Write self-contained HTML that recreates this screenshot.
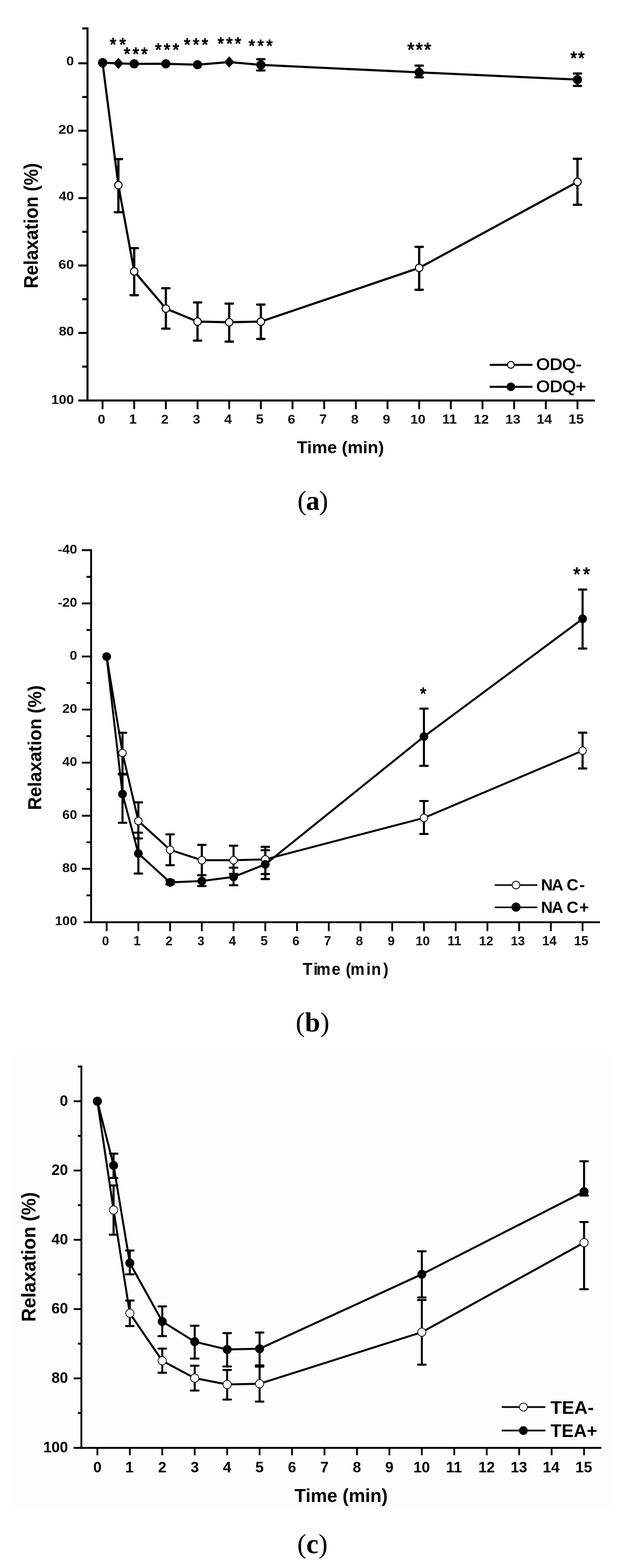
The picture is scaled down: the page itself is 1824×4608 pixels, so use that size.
<!DOCTYPE html>
<html><head><meta charset="utf-8"><title>Relaxation time-course figure (a)(b)(c)</title>
<style>
html,body{margin:0;padding:0;background:#fff;}
body{width:1824px;height:4608px;overflow:hidden;}
svg{display:block;}
</style></head>
<body>
<svg width="1824" height="4608" viewBox="0 0 1824 4608">
<rect x="0" y="0" width="1824" height="4608" fill="#fff"/>
<line x1="257.0" y1="80.5" x2="257.0" y2="1180.0" stroke="#000" stroke-width="6.0" stroke-linecap="butt"/>
<line x1="230.0" y1="1177.0" x2="1747.0" y2="1177.0" stroke="#000" stroke-width="6.0" stroke-linecap="butt"/>
<line x1="241.5" y1="83.5" x2="257.0" y2="83.5" stroke="#000" stroke-width="6.0" stroke-linecap="butt"/>
<line x1="230.0" y1="186.0" x2="257.0" y2="186.0" stroke="#000" stroke-width="6.0" stroke-linecap="butt"/>
<line x1="241.5" y1="285.1" x2="257.0" y2="285.1" stroke="#000" stroke-width="6.0" stroke-linecap="butt"/>
<line x1="230.0" y1="384.1" x2="257.0" y2="384.1" stroke="#000" stroke-width="6.0" stroke-linecap="butt"/>
<line x1="241.5" y1="483.1" x2="257.0" y2="483.1" stroke="#000" stroke-width="6.0" stroke-linecap="butt"/>
<line x1="230.0" y1="582.2" x2="257.0" y2="582.2" stroke="#000" stroke-width="6.0" stroke-linecap="butt"/>
<line x1="241.5" y1="681.2" x2="257.0" y2="681.2" stroke="#000" stroke-width="6.0" stroke-linecap="butt"/>
<line x1="230.0" y1="780.3" x2="257.0" y2="780.3" stroke="#000" stroke-width="6.0" stroke-linecap="butt"/>
<line x1="241.5" y1="879.3" x2="257.0" y2="879.3" stroke="#000" stroke-width="6.0" stroke-linecap="butt"/>
<line x1="230.0" y1="978.4" x2="257.0" y2="978.4" stroke="#000" stroke-width="6.0" stroke-linecap="butt"/>
<line x1="241.5" y1="1077.4" x2="257.0" y2="1077.4" stroke="#000" stroke-width="6.0" stroke-linecap="butt"/>
<text x="194.8" y="191.5" font-size="36.57" textLength="22.4" lengthAdjust="spacingAndGlyphs" font-family='"Liberation Sans", Arial, Helvetica, sans-serif' font-weight="bold" fill="#111" >0</text>
<text x="171.3" y="392.5" font-size="37.57" textLength="46.0" lengthAdjust="spacingAndGlyphs" font-family='"Liberation Sans", Arial, Helvetica, sans-serif' font-weight="bold" fill="#111" >20</text>
<text x="172.8" y="589.1" font-size="36.29" textLength="44.4" lengthAdjust="spacingAndGlyphs" font-family='"Liberation Sans", Arial, Helvetica, sans-serif' font-weight="bold" fill="#111" >40</text>
<text x="171.8" y="789.7" font-size="37.14" textLength="45.4" lengthAdjust="spacingAndGlyphs" font-family='"Liberation Sans", Arial, Helvetica, sans-serif' font-weight="bold" fill="#111" >60</text>
<text x="172.8" y="986.0" font-size="36.29" textLength="44.4" lengthAdjust="spacingAndGlyphs" font-family='"Liberation Sans", Arial, Helvetica, sans-serif' font-weight="bold" fill="#111" >80</text>
<text x="150.6" y="1186.7" font-size="36.29" textLength="66.6" lengthAdjust="spacingAndGlyphs" font-family='"Liberation Sans", Arial, Helvetica, sans-serif' font-weight="bold" fill="#111" >100</text>
<line x1="301.2" y1="1177.0" x2="301.2" y2="1202.5" stroke="#000" stroke-width="5.6" stroke-linecap="butt"/>
<text x="286.9" y="1245.0" font-size="37.71" textLength="22.2" lengthAdjust="spacingAndGlyphs" font-family='"Liberation Sans", Arial, Helvetica, sans-serif' font-weight="bold" fill="#111" >0</text>
<line x1="394.2" y1="1177.0" x2="394.2" y2="1202.5" stroke="#000" stroke-width="5.6" stroke-linecap="butt"/>
<text x="378.9" y="1245.0" font-size="38.26" textLength="22.6" lengthAdjust="spacingAndGlyphs" font-family='"Liberation Sans", Arial, Helvetica, sans-serif' font-weight="bold" fill="#111" >1</text>
<line x1="487.2" y1="1177.0" x2="487.2" y2="1202.5" stroke="#000" stroke-width="5.6" stroke-linecap="butt"/>
<text x="473.0" y="1245.0" font-size="37.71" textLength="22.2" lengthAdjust="spacingAndGlyphs" font-family='"Liberation Sans", Arial, Helvetica, sans-serif' font-weight="bold" fill="#111" >2</text>
<line x1="580.2" y1="1177.0" x2="580.2" y2="1202.5" stroke="#000" stroke-width="5.6" stroke-linecap="butt"/>
<text x="566.1" y="1245.0" font-size="37.71" textLength="22.2" lengthAdjust="spacingAndGlyphs" font-family='"Liberation Sans", Arial, Helvetica, sans-serif' font-weight="bold" fill="#111" >3</text>
<line x1="673.2" y1="1177.0" x2="673.2" y2="1202.5" stroke="#000" stroke-width="5.6" stroke-linecap="butt"/>
<text x="658.5" y="1245.0" font-size="38.26" textLength="22.6" lengthAdjust="spacingAndGlyphs" font-family='"Liberation Sans", Arial, Helvetica, sans-serif' font-weight="bold" fill="#111" >4</text>
<line x1="766.2" y1="1177.0" x2="766.2" y2="1202.5" stroke="#000" stroke-width="5.6" stroke-linecap="butt"/>
<text x="751.6" y="1245.0" font-size="38.26" textLength="22.6" lengthAdjust="spacingAndGlyphs" font-family='"Liberation Sans", Arial, Helvetica, sans-serif' font-weight="bold" fill="#111" >5</text>
<line x1="859.2" y1="1177.0" x2="859.2" y2="1202.5" stroke="#000" stroke-width="5.6" stroke-linecap="butt"/>
<text x="844.9" y="1245.0" font-size="37.71" textLength="22.2" lengthAdjust="spacingAndGlyphs" font-family='"Liberation Sans", Arial, Helvetica, sans-serif' font-weight="bold" fill="#111" >6</text>
<line x1="952.2" y1="1177.0" x2="952.2" y2="1202.5" stroke="#000" stroke-width="5.6" stroke-linecap="butt"/>
<text x="937.7" y="1245.0" font-size="38.26" textLength="22.6" lengthAdjust="spacingAndGlyphs" font-family='"Liberation Sans", Arial, Helvetica, sans-serif' font-weight="bold" fill="#111" >7</text>
<line x1="1045.2" y1="1177.0" x2="1045.2" y2="1202.5" stroke="#000" stroke-width="5.6" stroke-linecap="butt"/>
<text x="1030.9" y="1245.0" font-size="37.71" textLength="22.2" lengthAdjust="spacingAndGlyphs" font-family='"Liberation Sans", Arial, Helvetica, sans-serif' font-weight="bold" fill="#111" >8</text>
<line x1="1138.2" y1="1177.0" x2="1138.2" y2="1202.5" stroke="#000" stroke-width="5.6" stroke-linecap="butt"/>
<text x="1123.9" y="1245.0" font-size="37.71" textLength="22.2" lengthAdjust="spacingAndGlyphs" font-family='"Liberation Sans", Arial, Helvetica, sans-serif' font-weight="bold" fill="#111" >9</text>
<line x1="1231.2" y1="1177.0" x2="1231.2" y2="1202.5" stroke="#000" stroke-width="5.6" stroke-linecap="butt"/>
<text x="1205.3" y="1245.0" font-size="37.71" textLength="44.5" lengthAdjust="spacingAndGlyphs" font-family='"Liberation Sans", Arial, Helvetica, sans-serif' font-weight="bold" fill="#111" >10</text>
<line x1="1324.2" y1="1177.0" x2="1324.2" y2="1202.5" stroke="#000" stroke-width="5.6" stroke-linecap="butt"/>
<text x="1298.8" y="1245.0" font-size="38.26" textLength="42.9" lengthAdjust="spacingAndGlyphs" font-family='"Liberation Sans", Arial, Helvetica, sans-serif' font-weight="bold" fill="#111" >11</text>
<line x1="1417.2" y1="1177.0" x2="1417.2" y2="1202.5" stroke="#000" stroke-width="5.6" stroke-linecap="butt"/>
<text x="1391.3" y="1245.0" font-size="37.71" textLength="44.5" lengthAdjust="spacingAndGlyphs" font-family='"Liberation Sans", Arial, Helvetica, sans-serif' font-weight="bold" fill="#111" >12</text>
<line x1="1510.2" y1="1177.0" x2="1510.2" y2="1202.5" stroke="#000" stroke-width="5.6" stroke-linecap="butt"/>
<text x="1484.2" y="1245.0" font-size="37.71" textLength="44.5" lengthAdjust="spacingAndGlyphs" font-family='"Liberation Sans", Arial, Helvetica, sans-serif' font-weight="bold" fill="#111" >13</text>
<line x1="1603.2" y1="1177.0" x2="1603.2" y2="1202.5" stroke="#000" stroke-width="5.6" stroke-linecap="butt"/>
<text x="1576.3" y="1245.0" font-size="38.26" textLength="45.1" lengthAdjust="spacingAndGlyphs" font-family='"Liberation Sans", Arial, Helvetica, sans-serif' font-weight="bold" fill="#111" >14</text>
<line x1="1696.2" y1="1177.0" x2="1696.2" y2="1202.5" stroke="#000" stroke-width="5.6" stroke-linecap="butt"/>
<text x="1669.7" y="1245.0" font-size="38.26" textLength="45.1" lengthAdjust="spacingAndGlyphs" font-family='"Liberation Sans", Arial, Helvetica, sans-serif' font-weight="bold" fill="#111" >15</text>
<text x="872.0" y="1332.0" font-size="50.00" textLength="255.9" lengthAdjust="spacingAndGlyphs" font-family='"Liberation Sans", Arial, Helvetica, sans-serif' font-weight="bold" fill="#000" >Time (min)</text>
<text transform="translate(110.5,844.0) rotate(-90)" x="-3.5" y="0" font-size="57.25" textLength="368.2" lengthAdjust="spacingAndGlyphs" font-family='"Liberation Sans", Arial, Helvetica, sans-serif' font-weight="bold">Relaxation (%)</text>
<line x1="347.7" y1="467.6" x2="347.7" y2="623.7" stroke="#000" stroke-width="6.6" stroke-linecap="butt"/><line x1="337.0" y1="467.6" x2="358.4" y2="467.6" stroke="#000" stroke-width="6.6" stroke-linecap="round"/><line x1="337.0" y1="623.7" x2="358.4" y2="623.7" stroke="#000" stroke-width="6.6" stroke-linecap="round"/>
<line x1="394.2" y1="729.2" x2="394.2" y2="867.6" stroke="#000" stroke-width="6.6" stroke-linecap="butt"/><line x1="383.5" y1="729.2" x2="404.9" y2="729.2" stroke="#000" stroke-width="6.6" stroke-linecap="round"/><line x1="383.5" y1="867.6" x2="404.9" y2="867.6" stroke="#000" stroke-width="6.6" stroke-linecap="round"/>
<line x1="487.2" y1="847.0" x2="487.2" y2="965.7" stroke="#000" stroke-width="6.6" stroke-linecap="butt"/><line x1="476.5" y1="847.0" x2="497.9" y2="847.0" stroke="#000" stroke-width="6.6" stroke-linecap="round"/><line x1="476.5" y1="965.7" x2="497.9" y2="965.7" stroke="#000" stroke-width="6.6" stroke-linecap="round"/>
<line x1="580.2" y1="888.7" x2="580.2" y2="1001.0" stroke="#000" stroke-width="6.6" stroke-linecap="butt"/><line x1="569.5" y1="888.7" x2="590.9" y2="888.7" stroke="#000" stroke-width="6.6" stroke-linecap="round"/><line x1="569.5" y1="1001.0" x2="590.9" y2="1001.0" stroke="#000" stroke-width="6.6" stroke-linecap="round"/>
<line x1="673.2" y1="892.2" x2="673.2" y2="1003.9" stroke="#000" stroke-width="6.6" stroke-linecap="butt"/><line x1="662.5" y1="892.2" x2="683.9" y2="892.2" stroke="#000" stroke-width="6.6" stroke-linecap="round"/><line x1="662.5" y1="1003.9" x2="683.9" y2="1003.9" stroke="#000" stroke-width="6.6" stroke-linecap="round"/>
<line x1="766.2" y1="895.1" x2="766.2" y2="996.1" stroke="#000" stroke-width="6.6" stroke-linecap="butt"/><line x1="755.5" y1="895.1" x2="776.9" y2="895.1" stroke="#000" stroke-width="6.6" stroke-linecap="round"/><line x1="755.5" y1="996.1" x2="776.9" y2="996.1" stroke="#000" stroke-width="6.6" stroke-linecap="round"/>
<line x1="1231.2" y1="725.5" x2="1231.2" y2="851.6" stroke="#000" stroke-width="6.6" stroke-linecap="butt"/><line x1="1220.5" y1="725.5" x2="1241.9" y2="725.5" stroke="#000" stroke-width="6.6" stroke-linecap="round"/><line x1="1220.5" y1="851.6" x2="1241.9" y2="851.6" stroke="#000" stroke-width="6.6" stroke-linecap="round"/>
<line x1="1696.2" y1="466.6" x2="1696.2" y2="601.8" stroke="#000" stroke-width="6.6" stroke-linecap="butt"/><line x1="1685.5" y1="466.6" x2="1706.9" y2="466.6" stroke="#000" stroke-width="6.6" stroke-linecap="round"/><line x1="1685.5" y1="601.8" x2="1706.9" y2="601.8" stroke="#000" stroke-width="6.6" stroke-linecap="round"/>
<line x1="766.2" y1="174.0" x2="766.2" y2="207.0" stroke="#000" stroke-width="6.6" stroke-linecap="butt"/><line x1="755.5" y1="174.0" x2="776.9" y2="174.0" stroke="#000" stroke-width="6.6" stroke-linecap="round"/><line x1="755.5" y1="207.0" x2="776.9" y2="207.0" stroke="#000" stroke-width="6.6" stroke-linecap="round"/>
<line x1="1231.2" y1="192.8" x2="1231.2" y2="227.1" stroke="#000" stroke-width="6.6" stroke-linecap="butt"/><line x1="1220.5" y1="192.8" x2="1241.9" y2="192.8" stroke="#000" stroke-width="6.6" stroke-linecap="round"/><line x1="1220.5" y1="227.1" x2="1241.9" y2="227.1" stroke="#000" stroke-width="6.6" stroke-linecap="round"/>
<line x1="1696.2" y1="216.0" x2="1696.2" y2="252.5" stroke="#000" stroke-width="6.6" stroke-linecap="butt"/><line x1="1685.5" y1="216.0" x2="1706.9" y2="216.0" stroke="#000" stroke-width="6.6" stroke-linecap="round"/><line x1="1685.5" y1="252.5" x2="1706.9" y2="252.5" stroke="#000" stroke-width="6.6" stroke-linecap="round"/>
<polyline points="301.4,186.0 347.7,544.1 394.2,797.5 487.2,906.9 580.2,945.1 673.2,947.0 766.2,945.1 1231.2,787.3 1696.2,534.6" fill="none" stroke="#000" stroke-width="6.3" stroke-linejoin="round" stroke-linecap="round"/>
<polyline points="301.4,184.0 347.7,186.3 394.2,187.6 487.2,187.5 580.2,190.2 673.2,182.3 766.2,190.6 1231.2,212.7 1696.2,233.9" fill="none" stroke="#000" stroke-width="6.3" stroke-linejoin="round" stroke-linecap="round"/>
<circle cx="301.4" cy="186.0" r="11.00" fill="#fff" stroke="#000" stroke-width="3"/>
<circle cx="347.7" cy="544.1" r="11.00" fill="#fff" stroke="#000" stroke-width="3"/>
<circle cx="394.2" cy="797.5" r="11.00" fill="#fff" stroke="#000" stroke-width="3"/>
<circle cx="487.2" cy="906.9" r="11.00" fill="#fff" stroke="#000" stroke-width="3"/>
<circle cx="580.2" cy="945.1" r="11.00" fill="#fff" stroke="#000" stroke-width="3"/>
<circle cx="673.2" cy="947.0" r="11.00" fill="#fff" stroke="#000" stroke-width="3"/>
<circle cx="766.2" cy="945.1" r="11.00" fill="#fff" stroke="#000" stroke-width="3"/>
<circle cx="1231.2" cy="787.3" r="11.00" fill="#fff" stroke="#000" stroke-width="3"/>
<circle cx="1696.2" cy="534.6" r="11.00" fill="#fff" stroke="#000" stroke-width="3"/>
<circle cx="301.4" cy="184.0" r="13.5" fill="#000"/>
<polygon points="347.7,169.5 362.3,186.3 347.7,203.1 333.1,186.3" fill="#000"/>
<circle cx="394.2" cy="187.6" r="13.5" fill="#000"/>
<circle cx="487.2" cy="187.5" r="13.5" fill="#000"/>
<circle cx="580.2" cy="190.2" r="13.5" fill="#000"/>
<polygon points="673.2,165.5 687.8,182.3 673.2,199.1 658.6,182.3" fill="#000"/>
<circle cx="766.2" cy="190.6" r="13.5" fill="#000"/>
<circle cx="1231.2" cy="212.7" r="13.5" fill="#000"/>
<circle cx="1696.2" cy="233.9" r="13.5" fill="#000"/>
<text transform="scale(0.93,1)" x="346.7 377.2" y="149.5" font-size="52.86" font-family='"Liberation Sans", Arial, Helvetica, sans-serif' fill="#000" stroke="#000" stroke-width="2.0" stroke-linejoin="round">**</text>
<text transform="scale(0.93,1)" x="390.9 418.5 446.0" y="177.0" font-size="52.86" font-family='"Liberation Sans", Arial, Helvetica, sans-serif' fill="#000" stroke="#000" stroke-width="2.0" stroke-linejoin="round">***</text>
<text transform="scale(0.93,1)" x="489.8 517.4 545.1" y="163.6" font-size="52.57" font-family='"Liberation Sans", Arial, Helvetica, sans-serif' fill="#000" stroke="#000" stroke-width="2.0" stroke-linejoin="round">***</text>
<text transform="scale(0.93,1)" x="581.0 609.1 637.2" y="149.3" font-size="52.29" font-family='"Liberation Sans", Arial, Helvetica, sans-serif' fill="#000" stroke="#000" stroke-width="2.0" stroke-linejoin="round">***</text>
<text transform="scale(0.93,1)" x="687.1 714.3 741.4" y="146.5" font-size="52.57" font-family='"Liberation Sans", Arial, Helvetica, sans-serif' fill="#000" stroke="#000" stroke-width="2.0" stroke-linejoin="round">***</text>
<text transform="scale(0.93,1)" x="785.4 813.5 841.5" y="152.5" font-size="50.57" font-family='"Liberation Sans", Arial, Helvetica, sans-serif' fill="#000" stroke="#000" stroke-width="2.0" stroke-linejoin="round">***</text>
<text transform="scale(0.93,1)" x="1286.5 1312.9 1339.4" y="166.4" font-size="57.14" font-family='"Liberation Sans", Arial, Helvetica, sans-serif' fill="#000" stroke="#000" stroke-width="2.0" stroke-linejoin="round">***</text>
<text transform="scale(0.93,1)" x="1801.6 1825.8" y="189.5" font-size="52.86" font-family='"Liberation Sans", Arial, Helvetica, sans-serif' fill="#000" stroke="#000" stroke-width="2.0" stroke-linejoin="round">**</text>
<line x1="1438.4" y1="1072.2" x2="1564.0" y2="1072.2" stroke="#000" stroke-width="6" stroke-linecap="butt"/>
<circle cx="1500.5" cy="1072.2" r="10.00" fill="#fff" stroke="#000" stroke-width="3"/>
<line x1="1438.4" y1="1136.7" x2="1564.0" y2="1136.7" stroke="#000" stroke-width="6" stroke-linecap="butt"/>
<circle cx="1500.5" cy="1136.7" r="12.5" fill="#000"/>
<text x="1575.3" y="1086.6" font-size="49.00" textLength="132.8" lengthAdjust="spacingAndGlyphs" font-family='"Liberation Sans", Arial, Helvetica, sans-serif' font-weight="normal" fill="#000" stroke="#000" stroke-width="1.6" stroke-linejoin="round">ODQ-</text>
<text x="1575.3" y="1151.6" font-size="49.00" textLength="145.8" lengthAdjust="spacingAndGlyphs" font-family='"Liberation Sans", Arial, Helvetica, sans-serif' font-weight="normal" fill="#000" stroke="#000" stroke-width="1.6" stroke-linejoin="round">ODQ+</text>
<text y="1497.9" font-size="80.77" font-family='"Liberation Serif", "Times New Roman", serif' fill="#000"><tspan x="873.4">(</tspan><tspan x="898.4" font-weight="bold">a</tspan><tspan x="936.9">)</tspan></text>
<line x1="267.6" y1="1614.0" x2="267.6" y2="2712.9" stroke="#000" stroke-width="5.5" stroke-linecap="butt"/>
<line x1="245.6" y1="2710.2" x2="1762.0" y2="2710.2" stroke="#000" stroke-width="5.5" stroke-linecap="butt"/>
<line x1="240.5" y1="1616.8" x2="267.6" y2="1616.8" stroke="#000" stroke-width="5.5" stroke-linecap="butt"/>
<line x1="254.0" y1="1695.3" x2="267.6" y2="1695.3" stroke="#000" stroke-width="5.5" stroke-linecap="butt"/>
<line x1="240.5" y1="1773.3" x2="267.6" y2="1773.3" stroke="#000" stroke-width="5.5" stroke-linecap="butt"/>
<line x1="254.0" y1="1851.3" x2="267.6" y2="1851.3" stroke="#000" stroke-width="5.5" stroke-linecap="butt"/>
<line x1="240.5" y1="1929.3" x2="267.6" y2="1929.3" stroke="#000" stroke-width="5.5" stroke-linecap="butt"/>
<line x1="254.0" y1="2007.3" x2="267.6" y2="2007.3" stroke="#000" stroke-width="5.5" stroke-linecap="butt"/>
<line x1="240.5" y1="2085.3" x2="267.6" y2="2085.3" stroke="#000" stroke-width="5.5" stroke-linecap="butt"/>
<line x1="254.0" y1="2163.3" x2="267.6" y2="2163.3" stroke="#000" stroke-width="5.5" stroke-linecap="butt"/>
<line x1="240.5" y1="2241.3" x2="267.6" y2="2241.3" stroke="#000" stroke-width="5.5" stroke-linecap="butt"/>
<line x1="254.0" y1="2319.3" x2="267.6" y2="2319.3" stroke="#000" stroke-width="5.5" stroke-linecap="butt"/>
<line x1="240.5" y1="2397.3" x2="267.6" y2="2397.3" stroke="#000" stroke-width="5.5" stroke-linecap="butt"/>
<line x1="254.0" y1="2475.3" x2="267.6" y2="2475.3" stroke="#000" stroke-width="5.5" stroke-linecap="butt"/>
<line x1="240.5" y1="2553.3" x2="267.6" y2="2553.3" stroke="#000" stroke-width="5.5" stroke-linecap="butt"/>
<line x1="254.0" y1="2631.3" x2="267.6" y2="2631.3" stroke="#000" stroke-width="5.5" stroke-linecap="butt"/>
<text x="169.9" y="1626.8" font-size="37.71" textLength="56.7" lengthAdjust="spacingAndGlyphs" font-family='"Liberation Sans", Arial, Helvetica, sans-serif' font-weight="bold" fill="#111" >-40</text>
<text x="169.9" y="1782.8" font-size="37.71" textLength="56.7" lengthAdjust="spacingAndGlyphs" font-family='"Liberation Sans", Arial, Helvetica, sans-serif' font-weight="bold" fill="#111" >-20</text>
<text x="204.8" y="1938.8" font-size="37.71" textLength="21.8" lengthAdjust="spacingAndGlyphs" font-family='"Liberation Sans", Arial, Helvetica, sans-serif' font-weight="bold" fill="#111" >0</text>
<text x="183.0" y="2094.8" font-size="37.71" textLength="43.6" lengthAdjust="spacingAndGlyphs" font-family='"Liberation Sans", Arial, Helvetica, sans-serif' font-weight="bold" fill="#111" >20</text>
<text x="183.0" y="2250.8" font-size="37.71" textLength="43.6" lengthAdjust="spacingAndGlyphs" font-family='"Liberation Sans", Arial, Helvetica, sans-serif' font-weight="bold" fill="#111" >40</text>
<text x="183.0" y="2406.8" font-size="37.71" textLength="43.6" lengthAdjust="spacingAndGlyphs" font-family='"Liberation Sans", Arial, Helvetica, sans-serif' font-weight="bold" fill="#111" >60</text>
<text x="183.0" y="2562.8" font-size="37.71" textLength="43.6" lengthAdjust="spacingAndGlyphs" font-family='"Liberation Sans", Arial, Helvetica, sans-serif' font-weight="bold" fill="#111" >80</text>
<text x="161.3" y="2718.8" font-size="37.71" textLength="65.4" lengthAdjust="spacingAndGlyphs" font-family='"Liberation Sans", Arial, Helvetica, sans-serif' font-weight="bold" fill="#111" >100</text>
<line x1="313.2" y1="2710.2" x2="313.2" y2="2736.3" stroke="#000" stroke-width="5.3" stroke-linecap="butt"/>
<text x="299.6" y="2777.6" font-size="37.57" textLength="20.9" lengthAdjust="spacingAndGlyphs" font-family='"Liberation Sans", Arial, Helvetica, sans-serif' font-weight="bold" fill="#111" >0</text>
<line x1="406.4" y1="2710.2" x2="406.4" y2="2736.3" stroke="#000" stroke-width="5.3" stroke-linecap="butt"/>
<text x="391.9" y="2777.6" font-size="38.12" textLength="21.2" lengthAdjust="spacingAndGlyphs" font-family='"Liberation Sans", Arial, Helvetica, sans-serif' font-weight="bold" fill="#111" >1</text>
<line x1="499.6" y1="2710.2" x2="499.6" y2="2736.3" stroke="#000" stroke-width="5.3" stroke-linecap="butt"/>
<text x="486.1" y="2777.6" font-size="37.57" textLength="20.9" lengthAdjust="spacingAndGlyphs" font-family='"Liberation Sans", Arial, Helvetica, sans-serif' font-weight="bold" fill="#111" >2</text>
<line x1="592.8" y1="2710.2" x2="592.8" y2="2736.3" stroke="#000" stroke-width="5.3" stroke-linecap="butt"/>
<text x="579.4" y="2777.6" font-size="37.57" textLength="20.9" lengthAdjust="spacingAndGlyphs" font-family='"Liberation Sans", Arial, Helvetica, sans-serif' font-weight="bold" fill="#111" >3</text>
<line x1="686.0" y1="2710.2" x2="686.0" y2="2736.3" stroke="#000" stroke-width="5.3" stroke-linecap="butt"/>
<text x="672.0" y="2777.6" font-size="38.12" textLength="21.2" lengthAdjust="spacingAndGlyphs" font-family='"Liberation Sans", Arial, Helvetica, sans-serif' font-weight="bold" fill="#111" >4</text>
<line x1="779.2" y1="2710.2" x2="779.2" y2="2736.3" stroke="#000" stroke-width="5.3" stroke-linecap="butt"/>
<text x="765.3" y="2777.6" font-size="38.12" textLength="21.2" lengthAdjust="spacingAndGlyphs" font-family='"Liberation Sans", Arial, Helvetica, sans-serif' font-weight="bold" fill="#111" >5</text>
<line x1="872.4" y1="2710.2" x2="872.4" y2="2736.3" stroke="#000" stroke-width="5.3" stroke-linecap="butt"/>
<text x="858.8" y="2777.6" font-size="37.57" textLength="20.9" lengthAdjust="spacingAndGlyphs" font-family='"Liberation Sans", Arial, Helvetica, sans-serif' font-weight="bold" fill="#111" >6</text>
<line x1="965.6" y1="2710.2" x2="965.6" y2="2736.3" stroke="#000" stroke-width="5.3" stroke-linecap="butt"/>
<text x="951.8" y="2777.6" font-size="38.12" textLength="21.2" lengthAdjust="spacingAndGlyphs" font-family='"Liberation Sans", Arial, Helvetica, sans-serif' font-weight="bold" fill="#111" >7</text>
<line x1="1058.8" y1="2710.2" x2="1058.8" y2="2736.3" stroke="#000" stroke-width="5.3" stroke-linecap="butt"/>
<text x="1045.2" y="2777.6" font-size="37.57" textLength="20.9" lengthAdjust="spacingAndGlyphs" font-family='"Liberation Sans", Arial, Helvetica, sans-serif' font-weight="bold" fill="#111" >8</text>
<line x1="1152.0" y1="2710.2" x2="1152.0" y2="2736.3" stroke="#000" stroke-width="5.3" stroke-linecap="butt"/>
<text x="1138.4" y="2777.6" font-size="37.57" textLength="20.9" lengthAdjust="spacingAndGlyphs" font-family='"Liberation Sans", Arial, Helvetica, sans-serif' font-weight="bold" fill="#111" >9</text>
<line x1="1245.2" y1="2710.2" x2="1245.2" y2="2736.3" stroke="#000" stroke-width="5.3" stroke-linecap="butt"/>
<text x="1220.7" y="2777.6" font-size="37.57" textLength="41.8" lengthAdjust="spacingAndGlyphs" font-family='"Liberation Sans", Arial, Helvetica, sans-serif' font-weight="bold" fill="#111" >10</text>
<line x1="1338.4" y1="2710.2" x2="1338.4" y2="2736.3" stroke="#000" stroke-width="5.3" stroke-linecap="butt"/>
<text x="1314.3" y="2777.6" font-size="38.12" textLength="40.3" lengthAdjust="spacingAndGlyphs" font-family='"Liberation Sans", Arial, Helvetica, sans-serif' font-weight="bold" fill="#111" >11</text>
<line x1="1431.6" y1="2710.2" x2="1431.6" y2="2736.3" stroke="#000" stroke-width="5.3" stroke-linecap="butt"/>
<text x="1407.1" y="2777.6" font-size="37.57" textLength="41.8" lengthAdjust="spacingAndGlyphs" font-family='"Liberation Sans", Arial, Helvetica, sans-serif' font-weight="bold" fill="#111" >12</text>
<line x1="1524.8" y1="2710.2" x2="1524.8" y2="2736.3" stroke="#000" stroke-width="5.3" stroke-linecap="butt"/>
<text x="1500.2" y="2777.6" font-size="37.57" textLength="41.8" lengthAdjust="spacingAndGlyphs" font-family='"Liberation Sans", Arial, Helvetica, sans-serif' font-weight="bold" fill="#111" >13</text>
<line x1="1618.0" y1="2710.2" x2="1618.0" y2="2736.3" stroke="#000" stroke-width="5.3" stroke-linecap="butt"/>
<text x="1592.5" y="2777.6" font-size="38.12" textLength="42.4" lengthAdjust="spacingAndGlyphs" font-family='"Liberation Sans", Arial, Helvetica, sans-serif' font-weight="bold" fill="#111" >14</text>
<line x1="1711.2" y1="2710.2" x2="1711.2" y2="2736.3" stroke="#000" stroke-width="5.3" stroke-linecap="butt"/>
<text x="1686.1" y="2777.6" font-size="38.12" textLength="42.4" lengthAdjust="spacingAndGlyphs" font-family='"Liberation Sans", Arial, Helvetica, sans-serif' font-weight="bold" fill="#111" >15</text>
<text transform="scale(0.94,1)" x="946.1 979.4 988.9 1036.4 1063.8 1080.3 1095.1 1144.6 1160.4 1197.3" y="2865.5" font-size="49.28" font-family='"Liberation Sans", Arial, Helvetica, sans-serif' font-weight="bold" fill="#000">Time (min)</text>
<text transform="translate(121.0,2377.0) rotate(-90)" x="-3.5" y="0" font-size="55.80" textLength="366.6" lengthAdjust="spacingAndGlyphs" font-family='"Liberation Sans", Arial, Helvetica, sans-serif' font-weight="bold">Relaxation (%)</text>
<line x1="359.8" y1="2153.4" x2="359.8" y2="2274.0" stroke="#000" stroke-width="6.2" stroke-linecap="butt"/><line x1="348.9" y1="2153.4" x2="370.7" y2="2153.4" stroke="#000" stroke-width="6.2" stroke-linecap="round"/><line x1="348.9" y1="2274.0" x2="370.7" y2="2274.0" stroke="#000" stroke-width="6.2" stroke-linecap="round"/>
<line x1="406.4" y1="2357.8" x2="406.4" y2="2464.0" stroke="#000" stroke-width="6.2" stroke-linecap="butt"/><line x1="395.5" y1="2357.8" x2="417.3" y2="2357.8" stroke="#000" stroke-width="6.2" stroke-linecap="round"/><line x1="395.5" y1="2464.0" x2="417.3" y2="2464.0" stroke="#000" stroke-width="6.2" stroke-linecap="round"/>
<line x1="499.6" y1="2452.0" x2="499.6" y2="2542.6" stroke="#000" stroke-width="6.2" stroke-linecap="butt"/><line x1="488.7" y1="2452.0" x2="510.5" y2="2452.0" stroke="#000" stroke-width="6.2" stroke-linecap="round"/><line x1="488.7" y1="2542.6" x2="510.5" y2="2542.6" stroke="#000" stroke-width="6.2" stroke-linecap="round"/>
<line x1="592.8" y1="2482.8" x2="592.8" y2="2572.0" stroke="#000" stroke-width="6.2" stroke-linecap="butt"/><line x1="581.9" y1="2482.8" x2="603.7" y2="2482.8" stroke="#000" stroke-width="6.2" stroke-linecap="round"/><line x1="581.9" y1="2572.0" x2="603.7" y2="2572.0" stroke="#000" stroke-width="6.2" stroke-linecap="round"/>
<line x1="686.0" y1="2485.3" x2="686.0" y2="2568.0" stroke="#000" stroke-width="6.2" stroke-linecap="butt"/><line x1="675.1" y1="2485.3" x2="696.9" y2="2485.3" stroke="#000" stroke-width="6.2" stroke-linecap="round"/><line x1="675.1" y1="2568.0" x2="696.9" y2="2568.0" stroke="#000" stroke-width="6.2" stroke-linecap="round"/>
<line x1="779.2" y1="2488.7" x2="779.2" y2="2568.6" stroke="#000" stroke-width="6.2" stroke-linecap="butt"/><line x1="768.3" y1="2488.7" x2="790.1" y2="2488.7" stroke="#000" stroke-width="6.2" stroke-linecap="round"/><line x1="768.3" y1="2568.6" x2="790.1" y2="2568.6" stroke="#000" stroke-width="6.2" stroke-linecap="round"/>
<line x1="1245.2" y1="2354.0" x2="1245.2" y2="2450.8" stroke="#000" stroke-width="6.2" stroke-linecap="butt"/><line x1="1234.3" y1="2354.0" x2="1256.1" y2="2354.0" stroke="#000" stroke-width="6.2" stroke-linecap="round"/><line x1="1234.3" y1="2450.8" x2="1256.1" y2="2450.8" stroke="#000" stroke-width="6.2" stroke-linecap="round"/>
<line x1="1711.2" y1="2153.2" x2="1711.2" y2="2258.3" stroke="#000" stroke-width="6.2" stroke-linecap="butt"/><line x1="1700.3" y1="2153.2" x2="1722.1" y2="2153.2" stroke="#000" stroke-width="6.2" stroke-linecap="round"/><line x1="1700.3" y1="2258.3" x2="1722.1" y2="2258.3" stroke="#000" stroke-width="6.2" stroke-linecap="round"/>
<line x1="359.8" y1="2276.0" x2="359.8" y2="2418.0" stroke="#000" stroke-width="6.2" stroke-linecap="butt"/><line x1="348.9" y1="2276.0" x2="370.7" y2="2276.0" stroke="#000" stroke-width="6.2" stroke-linecap="round"/><line x1="348.9" y1="2418.0" x2="370.7" y2="2418.0" stroke="#000" stroke-width="6.2" stroke-linecap="round"/>
<line x1="406.4" y1="2447.0" x2="406.4" y2="2567.2" stroke="#000" stroke-width="6.2" stroke-linecap="butt"/><line x1="395.5" y1="2447.0" x2="417.3" y2="2447.0" stroke="#000" stroke-width="6.2" stroke-linecap="round"/><line x1="395.5" y1="2567.2" x2="417.3" y2="2567.2" stroke="#000" stroke-width="6.2" stroke-linecap="round"/>
<line x1="499.6" y1="2587.0" x2="499.6" y2="2599.0" stroke="#000" stroke-width="6.2" stroke-linecap="butt"/><line x1="488.7" y1="2587.0" x2="510.5" y2="2587.0" stroke="#000" stroke-width="6.2" stroke-linecap="round"/><line x1="488.7" y1="2599.0" x2="510.5" y2="2599.0" stroke="#000" stroke-width="6.2" stroke-linecap="round"/>
<line x1="592.8" y1="2572.0" x2="592.8" y2="2604.0" stroke="#000" stroke-width="6.2" stroke-linecap="butt"/><line x1="581.9" y1="2572.0" x2="603.7" y2="2572.0" stroke="#000" stroke-width="6.2" stroke-linecap="round"/><line x1="581.9" y1="2604.0" x2="603.7" y2="2604.0" stroke="#000" stroke-width="6.2" stroke-linecap="round"/>
<line x1="686.0" y1="2550.0" x2="686.0" y2="2601.5" stroke="#000" stroke-width="6.2" stroke-linecap="butt"/><line x1="675.1" y1="2550.0" x2="696.9" y2="2550.0" stroke="#000" stroke-width="6.2" stroke-linecap="round"/><line x1="675.1" y1="2601.5" x2="696.9" y2="2601.5" stroke="#000" stroke-width="6.2" stroke-linecap="round"/>
<line x1="779.2" y1="2498.5" x2="779.2" y2="2583.3" stroke="#000" stroke-width="6.2" stroke-linecap="butt"/><line x1="768.3" y1="2498.5" x2="790.1" y2="2498.5" stroke="#000" stroke-width="6.2" stroke-linecap="round"/><line x1="768.3" y1="2583.3" x2="790.1" y2="2583.3" stroke="#000" stroke-width="6.2" stroke-linecap="round"/>
<line x1="1245.2" y1="2082.5" x2="1245.2" y2="2250.7" stroke="#000" stroke-width="6.2" stroke-linecap="butt"/><line x1="1234.3" y1="2082.5" x2="1256.1" y2="2082.5" stroke="#000" stroke-width="6.2" stroke-linecap="round"/><line x1="1234.3" y1="2250.7" x2="1256.1" y2="2250.7" stroke="#000" stroke-width="6.2" stroke-linecap="round"/>
<line x1="1711.2" y1="1732.6" x2="1711.2" y2="1905.9" stroke="#000" stroke-width="6.2" stroke-linecap="butt"/><line x1="1700.3" y1="1732.6" x2="1722.1" y2="1732.6" stroke="#000" stroke-width="6.2" stroke-linecap="round"/><line x1="1700.3" y1="1905.9" x2="1722.1" y2="1905.9" stroke="#000" stroke-width="6.2" stroke-linecap="round"/>
<polyline points="313.2,1929.5 359.8,2212.7 406.4,2412.7 499.6,2497.5 592.8,2528.0 686.0,2528.0 779.2,2525.5 1245.2,2403.7 1711.2,2206.1" fill="none" stroke="#000" stroke-width="5.8" stroke-linejoin="round" stroke-linecap="round"/>
<polyline points="313.2,1929.5 359.8,2333.5 406.4,2508.3 499.6,2593.1 592.8,2589.2 686.0,2577.0 779.2,2540.2 1245.2,2164.7 1711.2,1818.6" fill="none" stroke="#000" stroke-width="5.8" stroke-linejoin="round" stroke-linecap="round"/>
<circle cx="313.2" cy="1929.5" r="11.10" fill="#fff" stroke="#000" stroke-width="2.4"/>
<circle cx="359.8" cy="2212.7" r="11.10" fill="#fff" stroke="#000" stroke-width="2.4"/>
<circle cx="406.4" cy="2412.7" r="11.10" fill="#fff" stroke="#000" stroke-width="2.4"/>
<circle cx="499.6" cy="2497.5" r="11.10" fill="#fff" stroke="#000" stroke-width="2.4"/>
<circle cx="592.8" cy="2528.0" r="11.10" fill="#fff" stroke="#000" stroke-width="2.4"/>
<circle cx="686.0" cy="2528.0" r="11.10" fill="#fff" stroke="#000" stroke-width="2.4"/>
<circle cx="779.2" cy="2525.5" r="11.10" fill="#fff" stroke="#000" stroke-width="2.4"/>
<circle cx="1245.2" cy="2403.7" r="11.10" fill="#fff" stroke="#000" stroke-width="2.4"/>
<circle cx="1711.2" cy="2206.1" r="11.10" fill="#fff" stroke="#000" stroke-width="2.4"/>
<circle cx="313.2" cy="1929.5" r="12.8" fill="#000"/>
<circle cx="359.8" cy="2333.5" r="12.8" fill="#000"/>
<circle cx="406.4" cy="2508.3" r="12.8" fill="#000"/>
<circle cx="499.6" cy="2593.1" r="12.8" fill="#000"/>
<circle cx="592.8" cy="2589.2" r="12.8" fill="#000"/>
<circle cx="686.0" cy="2577.0" r="12.8" fill="#000"/>
<circle cx="779.2" cy="2540.2" r="12.8" fill="#000"/>
<circle cx="1245.2" cy="2164.7" r="12.8" fill="#000"/>
<circle cx="1711.2" cy="1818.6" r="12.8" fill="#000"/>
<text transform="scale(0.93,1)" x="1327.0" y="2056.0" font-size="50.00" font-family='"Liberation Sans", Arial, Helvetica, sans-serif' fill="#000" stroke="#000" stroke-width="2.0" stroke-linejoin="round">*</text>
<text transform="scale(0.93,1)" x="1810.7 1841.5" y="1706.3" font-size="56.29" font-family='"Liberation Sans", Arial, Helvetica, sans-serif' fill="#000" stroke="#000" stroke-width="2.0" stroke-linejoin="round">**</text>
<line x1="1453.2" y1="2600.9" x2="1578.2" y2="2600.9" stroke="#000" stroke-width="4.5" stroke-linecap="butt"/>
<circle cx="1515.6" cy="2600.9" r="11.25" fill="#fff" stroke="#000" stroke-width="2.5"/>
<line x1="1453.2" y1="2666.5" x2="1578.2" y2="2666.5" stroke="#000" stroke-width="4.5" stroke-linecap="butt"/>
<circle cx="1515.6" cy="2665.8" r="13.5" fill="#000"/>
<text x="1588.9 1620.2 1664.3 1701.9" y="2617.1" font-size="47.97" font-family='"Liberation Sans", Arial, Helvetica, sans-serif' font-weight="bold" fill="#000">NAC-</text>
<text x="1589.0 1620.3 1664.3 1701.8" y="2683.2" font-size="47.83" font-family='"Liberation Sans", Arial, Helvetica, sans-serif' font-weight="bold" fill="#000">NAC+</text>
<text y="3030.5" font-size="80.77" font-family='"Liberation Serif", "Times New Roman", serif' fill="#000"><tspan x="868.4">(</tspan><tspan x="895.5" font-weight="bold">b</tspan><tspan x="940.7">)</tspan></text>
<rect x="41" y="3100" width="1754.6" height="1331" fill="#fdfdfd"/>
<line x1="239.0" y1="3131.6" x2="239.0" y2="4257.7" stroke="#000" stroke-width="5.4" stroke-linecap="butt"/>
<line x1="216.0" y1="4255.0" x2="1766.0" y2="4255.0" stroke="#000" stroke-width="5.4" stroke-linecap="butt"/>
<line x1="228.7" y1="3134.3" x2="239.0" y2="3134.3" stroke="#000" stroke-width="5.4" stroke-linecap="butt"/>
<line x1="216.5" y1="3236.3" x2="239.0" y2="3236.3" stroke="#000" stroke-width="5.4" stroke-linecap="butt"/>
<line x1="228.7" y1="3338.1" x2="239.0" y2="3338.1" stroke="#000" stroke-width="5.4" stroke-linecap="butt"/>
<line x1="216.5" y1="3439.9" x2="239.0" y2="3439.9" stroke="#000" stroke-width="5.4" stroke-linecap="butt"/>
<line x1="228.7" y1="3541.7" x2="239.0" y2="3541.7" stroke="#000" stroke-width="5.4" stroke-linecap="butt"/>
<line x1="216.5" y1="3643.5" x2="239.0" y2="3643.5" stroke="#000" stroke-width="5.4" stroke-linecap="butt"/>
<line x1="228.7" y1="3745.3" x2="239.0" y2="3745.3" stroke="#000" stroke-width="5.4" stroke-linecap="butt"/>
<line x1="216.5" y1="3847.1" x2="239.0" y2="3847.1" stroke="#000" stroke-width="5.4" stroke-linecap="butt"/>
<line x1="228.7" y1="3948.9" x2="239.0" y2="3948.9" stroke="#000" stroke-width="5.4" stroke-linecap="butt"/>
<line x1="216.5" y1="4050.7" x2="239.0" y2="4050.7" stroke="#000" stroke-width="5.4" stroke-linecap="butt"/>
<line x1="228.7" y1="4152.5" x2="239.0" y2="4152.5" stroke="#000" stroke-width="5.4" stroke-linecap="butt"/>
<text x="175.5" y="3249.6" font-size="43.71" textLength="24.3" lengthAdjust="spacingAndGlyphs" font-family='"Liberation Sans", Arial, Helvetica, sans-serif' font-weight="bold" fill="#000" >0</text>
<text x="151.2" y="3453.2" font-size="43.71" textLength="48.6" lengthAdjust="spacingAndGlyphs" font-family='"Liberation Sans", Arial, Helvetica, sans-serif' font-weight="bold" fill="#000" >20</text>
<text x="151.2" y="3656.8" font-size="43.71" textLength="48.6" lengthAdjust="spacingAndGlyphs" font-family='"Liberation Sans", Arial, Helvetica, sans-serif' font-weight="bold" fill="#000" >40</text>
<text x="151.2" y="3860.4" font-size="43.71" textLength="48.6" lengthAdjust="spacingAndGlyphs" font-family='"Liberation Sans", Arial, Helvetica, sans-serif' font-weight="bold" fill="#000" >60</text>
<text x="151.2" y="4064.0" font-size="43.71" textLength="48.6" lengthAdjust="spacingAndGlyphs" font-family='"Liberation Sans", Arial, Helvetica, sans-serif' font-weight="bold" fill="#000" >80</text>
<text x="127.0" y="4267.6" font-size="43.71" textLength="72.9" lengthAdjust="spacingAndGlyphs" font-family='"Liberation Sans", Arial, Helvetica, sans-serif' font-weight="bold" fill="#000" >100</text>
<line x1="286.0" y1="4255.0" x2="286.0" y2="4276.7" stroke="#000" stroke-width="5.2" stroke-linecap="butt"/>
<text x="273.9" y="4326.5" font-size="43.57" textLength="24.2" lengthAdjust="spacingAndGlyphs" font-family='"Liberation Sans", Arial, Helvetica, sans-serif' font-weight="bold" fill="#000" >0</text>
<line x1="381.3" y1="4255.0" x2="381.3" y2="4276.7" stroke="#000" stroke-width="5.2" stroke-linecap="butt"/>
<text x="368.1" y="4326.5" font-size="44.20" textLength="24.6" lengthAdjust="spacingAndGlyphs" font-family='"Liberation Sans", Arial, Helvetica, sans-serif' font-weight="bold" fill="#000" >1</text>
<line x1="476.6" y1="4255.0" x2="476.6" y2="4276.7" stroke="#000" stroke-width="5.2" stroke-linecap="butt"/>
<text x="464.6" y="4326.5" font-size="43.57" textLength="24.2" lengthAdjust="spacingAndGlyphs" font-family='"Liberation Sans", Arial, Helvetica, sans-serif' font-weight="bold" fill="#000" >2</text>
<line x1="571.9" y1="4255.0" x2="571.9" y2="4276.7" stroke="#000" stroke-width="5.2" stroke-linecap="butt"/>
<text x="560.0" y="4326.5" font-size="43.57" textLength="24.2" lengthAdjust="spacingAndGlyphs" font-family='"Liberation Sans", Arial, Helvetica, sans-serif' font-weight="bold" fill="#000" >3</text>
<line x1="667.2" y1="4255.0" x2="667.2" y2="4276.7" stroke="#000" stroke-width="5.2" stroke-linecap="butt"/>
<text x="654.7" y="4326.5" font-size="44.20" textLength="24.6" lengthAdjust="spacingAndGlyphs" font-family='"Liberation Sans", Arial, Helvetica, sans-serif' font-weight="bold" fill="#000" >4</text>
<line x1="762.5" y1="4255.0" x2="762.5" y2="4276.7" stroke="#000" stroke-width="5.2" stroke-linecap="butt"/>
<text x="750.1" y="4326.5" font-size="44.20" textLength="24.6" lengthAdjust="spacingAndGlyphs" font-family='"Liberation Sans", Arial, Helvetica, sans-serif' font-weight="bold" fill="#000" >5</text>
<line x1="857.8" y1="4255.0" x2="857.8" y2="4276.7" stroke="#000" stroke-width="5.2" stroke-linecap="butt"/>
<text x="845.7" y="4326.5" font-size="43.57" textLength="24.2" lengthAdjust="spacingAndGlyphs" font-family='"Liberation Sans", Arial, Helvetica, sans-serif' font-weight="bold" fill="#000" >6</text>
<line x1="953.1" y1="4255.0" x2="953.1" y2="4276.7" stroke="#000" stroke-width="5.2" stroke-linecap="butt"/>
<text x="940.8" y="4326.5" font-size="44.20" textLength="24.6" lengthAdjust="spacingAndGlyphs" font-family='"Liberation Sans", Arial, Helvetica, sans-serif' font-weight="bold" fill="#000" >7</text>
<line x1="1048.4" y1="4255.0" x2="1048.4" y2="4276.7" stroke="#000" stroke-width="5.2" stroke-linecap="butt"/>
<text x="1036.3" y="4326.5" font-size="43.57" textLength="24.2" lengthAdjust="spacingAndGlyphs" font-family='"Liberation Sans", Arial, Helvetica, sans-serif' font-weight="bold" fill="#000" >8</text>
<line x1="1143.7" y1="4255.0" x2="1143.7" y2="4276.7" stroke="#000" stroke-width="5.2" stroke-linecap="butt"/>
<text x="1131.6" y="4326.5" font-size="43.57" textLength="24.2" lengthAdjust="spacingAndGlyphs" font-family='"Liberation Sans", Arial, Helvetica, sans-serif' font-weight="bold" fill="#000" >9</text>
<line x1="1239.0" y1="4255.0" x2="1239.0" y2="4276.7" stroke="#000" stroke-width="5.2" stroke-linecap="butt"/>
<text x="1214.3" y="4326.5" font-size="43.57" textLength="48.5" lengthAdjust="spacingAndGlyphs" font-family='"Liberation Sans", Arial, Helvetica, sans-serif' font-weight="bold" fill="#000" >10</text>
<line x1="1334.3" y1="4255.0" x2="1334.3" y2="4276.7" stroke="#000" stroke-width="5.2" stroke-linecap="butt"/>
<text x="1310.1" y="4326.5" font-size="44.20" textLength="46.7" lengthAdjust="spacingAndGlyphs" font-family='"Liberation Sans", Arial, Helvetica, sans-serif' font-weight="bold" fill="#000" >11</text>
<line x1="1429.6" y1="4255.0" x2="1429.6" y2="4276.7" stroke="#000" stroke-width="5.2" stroke-linecap="butt"/>
<text x="1404.9" y="4326.5" font-size="43.57" textLength="48.5" lengthAdjust="spacingAndGlyphs" font-family='"Liberation Sans", Arial, Helvetica, sans-serif' font-weight="bold" fill="#000" >12</text>
<line x1="1524.9" y1="4255.0" x2="1524.9" y2="4276.7" stroke="#000" stroke-width="5.2" stroke-linecap="butt"/>
<text x="1500.1" y="4326.5" font-size="43.57" textLength="48.5" lengthAdjust="spacingAndGlyphs" font-family='"Liberation Sans", Arial, Helvetica, sans-serif' font-weight="bold" fill="#000" >13</text>
<line x1="1620.2" y1="4255.0" x2="1620.2" y2="4276.7" stroke="#000" stroke-width="5.2" stroke-linecap="butt"/>
<text x="1594.3" y="4326.5" font-size="44.20" textLength="49.2" lengthAdjust="spacingAndGlyphs" font-family='"Liberation Sans", Arial, Helvetica, sans-serif' font-weight="bold" fill="#000" >14</text>
<line x1="1715.5" y1="4255.0" x2="1715.5" y2="4276.7" stroke="#000" stroke-width="5.2" stroke-linecap="butt"/>
<text x="1690.1" y="4326.5" font-size="44.20" textLength="49.2" lengthAdjust="spacingAndGlyphs" font-family='"Liberation Sans", Arial, Helvetica, sans-serif' font-weight="bold" fill="#000" >15</text>
<text x="865.2" y="4414.2" font-size="54.64" textLength="273.7" lengthAdjust="spacingAndGlyphs" font-family='"Liberation Sans", Arial, Helvetica, sans-serif' font-weight="bold" fill="#000" >Time (min)</text>
<text transform="translate(103.7,3880.9) rotate(-90)" x="-3.6" y="0" font-size="56.81" textLength="381.3" lengthAdjust="spacingAndGlyphs" font-family='"Liberation Sans", Arial, Helvetica, sans-serif' font-weight="bold">Relaxation (%)</text>
<line x1="333.6" y1="3483.8" x2="333.6" y2="3628.4" stroke="#000" stroke-width="6.0" stroke-linecap="butt"/><line x1="322.6" y1="3483.8" x2="344.6" y2="3483.8" stroke="#000" stroke-width="6.0" stroke-linecap="round"/><line x1="322.6" y1="3628.4" x2="344.6" y2="3628.4" stroke="#000" stroke-width="6.0" stroke-linecap="round"/>
<line x1="381.3" y1="3822.0" x2="381.3" y2="3897.0" stroke="#000" stroke-width="6.0" stroke-linecap="butt"/><line x1="370.3" y1="3822.0" x2="392.3" y2="3822.0" stroke="#000" stroke-width="6.0" stroke-linecap="round"/><line x1="370.3" y1="3897.0" x2="392.3" y2="3897.0" stroke="#000" stroke-width="6.0" stroke-linecap="round"/>
<line x1="476.6" y1="3963.2" x2="476.6" y2="4034.3" stroke="#000" stroke-width="6.0" stroke-linecap="butt"/><line x1="465.6" y1="3963.2" x2="487.6" y2="3963.2" stroke="#000" stroke-width="6.0" stroke-linecap="round"/><line x1="465.6" y1="4034.3" x2="487.6" y2="4034.3" stroke="#000" stroke-width="6.0" stroke-linecap="round"/>
<line x1="571.9" y1="4013.5" x2="571.9" y2="4086.5" stroke="#000" stroke-width="6.0" stroke-linecap="butt"/><line x1="560.9" y1="4013.5" x2="582.9" y2="4013.5" stroke="#000" stroke-width="6.0" stroke-linecap="round"/><line x1="560.9" y1="4086.5" x2="582.9" y2="4086.5" stroke="#000" stroke-width="6.0" stroke-linecap="round"/>
<line x1="667.2" y1="4026.0" x2="667.2" y2="4113.0" stroke="#000" stroke-width="6.0" stroke-linecap="butt"/><line x1="656.2" y1="4026.0" x2="678.2" y2="4026.0" stroke="#000" stroke-width="6.0" stroke-linecap="round"/><line x1="656.2" y1="4113.0" x2="678.2" y2="4113.0" stroke="#000" stroke-width="6.0" stroke-linecap="round"/>
<line x1="762.5" y1="4016.2" x2="762.5" y2="4119.1" stroke="#000" stroke-width="6.0" stroke-linecap="butt"/><line x1="751.5" y1="4016.2" x2="773.5" y2="4016.2" stroke="#000" stroke-width="6.0" stroke-linecap="round"/><line x1="751.5" y1="4119.1" x2="773.5" y2="4119.1" stroke="#000" stroke-width="6.0" stroke-linecap="round"/>
<line x1="1239.0" y1="3820.6" x2="1239.0" y2="4010.6" stroke="#000" stroke-width="6.0" stroke-linecap="butt"/><line x1="1228.0" y1="3820.6" x2="1250.0" y2="3820.6" stroke="#000" stroke-width="6.0" stroke-linecap="round"/><line x1="1228.0" y1="4010.6" x2="1250.0" y2="4010.6" stroke="#000" stroke-width="6.0" stroke-linecap="round"/>
<line x1="1715.5" y1="3591.2" x2="1715.5" y2="3788.8" stroke="#000" stroke-width="6.0" stroke-linecap="butt"/><line x1="1704.5" y1="3591.2" x2="1726.5" y2="3591.2" stroke="#000" stroke-width="6.0" stroke-linecap="round"/><line x1="1704.5" y1="3788.8" x2="1726.5" y2="3788.8" stroke="#000" stroke-width="6.0" stroke-linecap="round"/>
<line x1="333.6" y1="3390.2" x2="333.6" y2="3461.8" stroke="#000" stroke-width="6.0" stroke-linecap="butt"/><line x1="322.6" y1="3390.2" x2="344.6" y2="3390.2" stroke="#000" stroke-width="6.0" stroke-linecap="round"/><line x1="322.6" y1="3461.8" x2="344.6" y2="3461.8" stroke="#000" stroke-width="6.0" stroke-linecap="round"/>
<line x1="381.3" y1="3675.0" x2="381.3" y2="3745.1" stroke="#000" stroke-width="6.0" stroke-linecap="butt"/><line x1="370.3" y1="3675.0" x2="392.3" y2="3675.0" stroke="#000" stroke-width="6.0" stroke-linecap="round"/><line x1="370.3" y1="3745.1" x2="392.3" y2="3745.1" stroke="#000" stroke-width="6.0" stroke-linecap="round"/>
<line x1="476.6" y1="3839.2" x2="476.6" y2="3926.5" stroke="#000" stroke-width="6.0" stroke-linecap="butt"/><line x1="465.6" y1="3839.2" x2="487.6" y2="3839.2" stroke="#000" stroke-width="6.0" stroke-linecap="round"/><line x1="465.6" y1="3926.5" x2="487.6" y2="3926.5" stroke="#000" stroke-width="6.0" stroke-linecap="round"/>
<line x1="571.9" y1="3895.9" x2="571.9" y2="3992.4" stroke="#000" stroke-width="6.0" stroke-linecap="butt"/><line x1="560.9" y1="3895.9" x2="582.9" y2="3895.9" stroke="#000" stroke-width="6.0" stroke-linecap="round"/><line x1="560.9" y1="3992.4" x2="582.9" y2="3992.4" stroke="#000" stroke-width="6.0" stroke-linecap="round"/>
<line x1="667.2" y1="3917.8" x2="667.2" y2="4015.7" stroke="#000" stroke-width="6.0" stroke-linecap="butt"/><line x1="656.2" y1="3917.8" x2="678.2" y2="3917.8" stroke="#000" stroke-width="6.0" stroke-linecap="round"/><line x1="656.2" y1="4015.7" x2="678.2" y2="4015.7" stroke="#000" stroke-width="6.0" stroke-linecap="round"/>
<line x1="762.5" y1="3915.9" x2="762.5" y2="4012.5" stroke="#000" stroke-width="6.0" stroke-linecap="butt"/><line x1="751.5" y1="3915.9" x2="773.5" y2="3915.9" stroke="#000" stroke-width="6.0" stroke-linecap="round"/><line x1="751.5" y1="4012.5" x2="773.5" y2="4012.5" stroke="#000" stroke-width="6.0" stroke-linecap="round"/>
<line x1="1239.0" y1="3677.2" x2="1239.0" y2="3813.0" stroke="#000" stroke-width="6.0" stroke-linecap="butt"/><line x1="1228.0" y1="3677.2" x2="1250.0" y2="3677.2" stroke="#000" stroke-width="6.0" stroke-linecap="round"/><line x1="1228.0" y1="3813.0" x2="1250.0" y2="3813.0" stroke="#000" stroke-width="6.0" stroke-linecap="round"/>
<line x1="1715.5" y1="3412.7" x2="1715.5" y2="3513.4" stroke="#000" stroke-width="6.0" stroke-linecap="butt"/><line x1="1704.5" y1="3412.7" x2="1726.5" y2="3412.7" stroke="#000" stroke-width="6.0" stroke-linecap="round"/><line x1="1704.5" y1="3513.4" x2="1726.5" y2="3513.4" stroke="#000" stroke-width="6.0" stroke-linecap="round"/>
<polyline points="286.0,3236.3 333.6,3556.0 381.3,3859.3 476.6,3999.0 571.9,4050.0 667.2,4068.6 762.5,4066.5 1239.0,3915.0 1715.5,3651.8" fill="none" stroke="#000" stroke-width="5.9" stroke-linejoin="round" stroke-linecap="round"/>
<polyline points="286.0,3236.3 333.6,3425.0 381.3,3711.8 476.6,3883.5 571.9,3943.0 667.2,3965.8 762.5,3963.6 1239.0,3744.8 1715.5,3502.0" fill="none" stroke="#000" stroke-width="5.9" stroke-linejoin="round" stroke-linecap="round"/>
<circle cx="286.0" cy="3236.3" r="12.10" fill="#fff" stroke="#000" stroke-width="2.2"/>
<circle cx="333.6" cy="3556.0" r="12.10" fill="#fff" stroke="#000" stroke-width="2.2"/>
<circle cx="381.3" cy="3859.3" r="12.10" fill="#fff" stroke="#000" stroke-width="2.2"/>
<circle cx="476.6" cy="3999.0" r="12.10" fill="#fff" stroke="#000" stroke-width="2.2"/>
<circle cx="571.9" cy="4050.0" r="12.10" fill="#fff" stroke="#000" stroke-width="2.2"/>
<circle cx="667.2" cy="4068.6" r="12.10" fill="#fff" stroke="#000" stroke-width="2.2"/>
<circle cx="762.5" cy="4066.5" r="12.10" fill="#fff" stroke="#000" stroke-width="2.2"/>
<circle cx="1239.0" cy="3915.0" r="12.10" fill="#fff" stroke="#000" stroke-width="2.2"/>
<circle cx="1715.5" cy="3651.8" r="12.10" fill="#fff" stroke="#000" stroke-width="2.2"/>
<circle cx="286.0" cy="3236.3" r="13.2" fill="#000"/>
<circle cx="333.6" cy="3425.0" r="13.2" fill="#000"/>
<circle cx="381.3" cy="3711.8" r="13.2" fill="#000"/>
<circle cx="476.6" cy="3883.5" r="13.2" fill="#000"/>
<circle cx="571.9" cy="3943.0" r="13.2" fill="#000"/>
<circle cx="667.2" cy="3965.8" r="13.2" fill="#000"/>
<circle cx="762.5" cy="3963.6" r="13.2" fill="#000"/>
<circle cx="1239.0" cy="3744.8" r="13.2" fill="#000"/>
<circle cx="1715.5" cy="3502.0" r="13.2" fill="#000"/>
<line x1="1473.7" y1="4135.1" x2="1602.0" y2="4135.1" stroke="#000" stroke-width="5" stroke-linecap="butt"/>
<circle cx="1537.3" cy="4135.1" r="11.70" fill="#fff" stroke="#000" stroke-width="2.2"/>
<line x1="1473.7" y1="4204.1" x2="1602.0" y2="4204.1" stroke="#000" stroke-width="5" stroke-linecap="butt"/>
<circle cx="1537.3" cy="4204.1" r="12.8" fill="#000"/>
<text x="1617.1" y="4155.1" font-size="54.49" textLength="127.0" lengthAdjust="spacingAndGlyphs" font-family='"Liberation Sans", Arial, Helvetica, sans-serif' font-weight="bold" fill="#000" >TEA-</text>
<text x="1617.1" y="4222.5" font-size="53.91" textLength="137.2" lengthAdjust="spacingAndGlyphs" font-family='"Liberation Sans", Arial, Helvetica, sans-serif' font-weight="bold" fill="#000" >TEA+</text>
<text y="4563.5" font-size="80.77" font-family='"Liberation Serif", "Times New Roman", serif' fill="#000"><tspan x="872.9">(</tspan><tspan x="899.6" font-weight="bold">c</tspan><tspan x="935.4">)</tspan></text>
</svg>
</body></html>
